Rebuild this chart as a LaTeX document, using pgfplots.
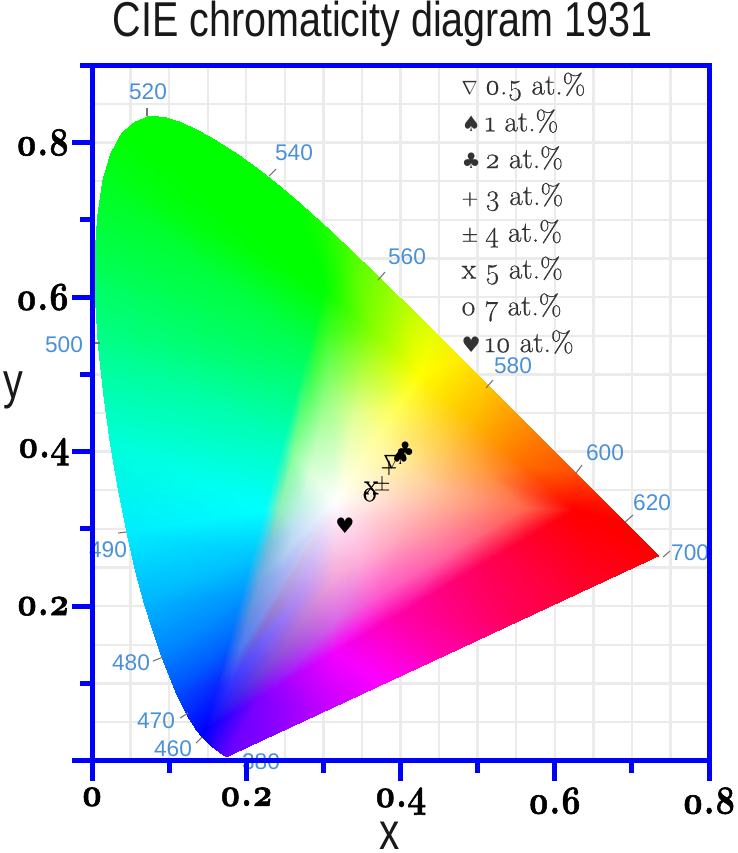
\documentclass[border=0pt]{standalone}
\usepackage{fontspec}
\usepackage{pgfplots}
\pgfplotsset{compat=1.18}
\setmainfont{Liberation Serif}
\newfontfamily\oldnum[Numbers=OldStyle,FakeBold=0.5]{Latin Modern Roman}
\newfontfamily\oldbold[Numbers=OldStyle,BoldFeatures={FakeBold=1.5}]{Latin Modern Roman}
\newfontfamily\wave{Liberation Sans}
\newfontfamily\sym{DejaVu Sans}
\definecolor{spine}{RGB}{0,0,255}
\definecolor{wavecol}{RGB}{74,144,217}
\definecolor{gridcol}{RGB}{235,235,235}

\begin{document}
\begin{tikzpicture}
\useasboundingbox (-69pt,-69.2pt) rectangle (483.75pt,570.5pt);

\begin{axis}[
    scale only axis, width=462.75pt, height=521.55pt, at={(0,0)}, anchor=south west,
    xmin=0, xmax=0.8, ymin=0, ymax=0.9,
    xtick={0,0.05,...,0.8}, ytick={0,0.05,...,0.9},
    xticklabels={}, yticklabels={},
    grid=major, grid style={gridcol, line width=1.8pt},
    major tick length=0pt, axis line style={draw=none},
    legend cell align=left,
    legend style={at={(axis cs:0.479,0.897)}, anchor=north west, draw=none, fill=none,
        font=\oldnum\fontsize{22}{22}\selectfont, text=black!80, row sep=0pt, inner sep=0pt,
        /tikz/column sep=3pt,
        nodes={text height=20pt, text depth=7.6pt, inner sep=0pt}},
]
% colour fill: locus (0-36), gamut triangle (37-54), middle ring (55-72), white point (73),
% slivers that round off the locus (74-89), ring just inside the triangle (90-107)
\addplot[patch, patch type=triangle, shader=interp, forget plot,
    mesh/color input=explicit, table/row sep=\\,
    patch table={
    1 2 37\\ 2 3 37\\ 3 37 38\\ 3 4 38\\ 4 38 39\\ 4 5 39\\ 5 39 40\\ 5 6 40\\ 6 40 41\\ 6 7 41\\
    7 41 42\\ 7 8 42\\ 8 42 43\\ 8 9 43\\ 9 43 44\\ 9 10 44\\ 10 11 44\\ 11 44 45\\ 11 12 45\\
    12 13 45\\ 13 14 45\\ 14 15 45\\ 15 16 45\\ 16 17 45\\ 17 18 45\\ 18 19 45\\ 19 20 45\\
    20 45 46\\ 20 21 46\\ 21 22 46\\ 22 46 47\\ 22 23 47\\ 23 24 47\\ 24 47 48\\ 24 25 48\\
    25 48 49\\ 25 26 49\\ 26 27 49\\ 27 49 50\\ 27 28 50\\ 28 29 50\\ 29 30 50\\ 30 31 50\\
    31 50 51\\ 31 32 51\\ 32 51 52\\ 32 33 52\\ 33 34 52\\ 34 52 53\\ 34 35 53\\ 35 53 54\\
    35 36 54\\ 36 0 54\\ 0 54 37\\ 0 1 37\\
    37 38 90\\ 38 91 90\\ 38 39 91\\ 39 92 91\\ 39 40 92\\ 40 93 92\\ 40 41 93\\ 41 94 93\\
    41 42 94\\ 42 95 94\\ 42 43 95\\ 43 96 95\\ 43 44 96\\ 44 97 96\\ 44 45 97\\ 45 98 97\\
    45 46 98\\ 46 99 98\\ 46 47 99\\ 47 100 99\\ 47 48 100\\ 48 101 100\\ 48 49 101\\ 49 102 101\\
    49 50 102\\ 50 103 102\\ 50 51 103\\ 51 104 103\\ 51 52 104\\ 52 105 104\\ 52 53 105\\ 53 106 105\\
    53 54 106\\ 54 107 106\\ 54 37 107\\ 37 90 107\\
    90 91 55\\ 91 56 55\\ 91 92 56\\ 92 57 56\\ 92 93 57\\ 93 58 57\\ 93 94 58\\ 94 59 58\\
    94 95 59\\ 95 60 59\\ 95 96 60\\ 96 61 60\\ 96 97 61\\ 97 62 61\\ 97 98 62\\ 98 63 62\\
    98 99 63\\ 99 64 63\\ 99 100 64\\ 100 65 64\\ 100 101 65\\ 101 66 65\\ 101 102 66\\ 102 67 66\\
    102 103 67\\ 103 68 67\\ 103 104 68\\ 104 69 68\\ 104 105 69\\ 105 70 69\\ 105 106 70\\ 106 71 70\\
    106 107 71\\ 107 72 71\\ 107 90 72\\ 90 55 72\\
    55 56 73\\ 56 57 73\\ 57 58 73\\ 58 59 73\\ 59 60 73\\ 60 61 73\\ 61 62 73\\ 62 63 73\\
    63 64 73\\ 64 65 73\\ 65 66 73\\ 66 67 73\\ 67 68 73\\ 68 69 73\\ 69 70 73\\ 70 71 73\\
    71 72 73\\ 72 55 73\\
    2 74 3\\ 3 75 4\\ 4 76 5\\ 5 77 6\\ 6 78 7\\ 7 79 8\\ 8 80 9\\ 9 81 10\\ 10 82 11\\
    11 83 12\\ 12 84 13\\ 13 85 14\\ 14 86 15\\ 15 87 16\\ 16 88 17\\ 17 89 18\\
    }] table[row sep=\\, meta=c] {
x y c\\
.1741 .005 .4,0,1\\
.1566 .0177 .1,0,1\\
.144 .0297 0,0,1\\
.1241 .0578 0,.15,1\\
.1096 .0868 0,.3,1\\
.0913 .1327 0,.5,1\\
.0687 .2007 0,.7,1\\
.0454 .295 0,.93,1\\
.0235 .4127 0,1,.85\\
.0082 .5384 0,1,.55\\
.0039 .6548 0,1,.3\\
.0139 .7502 0,1,.12\\
.0389 .812 0,1,0\\
.0743 .8338 0,1,0\\
.1142 .8262 0,1,0\\
.1547 .8059 0,1,0\\
.1929 .7816 0,1,0\\
.2296 .7543 0,1,0\\
.2658 .7243 0,1,0\\
.3016 .6923 .1,1,0\\
.3373 .6589 .3,1,0\\
.3731 .6245 .5,1,0\\
.4087 .5896 .72,1,0\\
.4441 .5547 .9,1,0\\
.4788 .5202 1,.92,0\\
.5125 .4866 1,.78,0\\
.5752 .4242 1,.5,0\\
.627 .3725 1,.3,0\\
.6658 .334 1,.08,0\\
.6915 .3083 1,0,0\\
.7347 .2653 1,0,0\\
.65 .226 1,0,.15\\
.55 .1795 1,0,.35\\
.45 .133 1,0,.7\\
.38 .1006 1,0,1\\
.30 .0634 .75,0,1\\
.24 .0356 .55,0,1\\
.147 .04 0,0,1\\
.1625 .0968 .03,.15,1\\
.178 .1536 0,.4,1\\
.1935 .2104 0,.58,1\\
.209 .267 0,.78,1\\
.2245 .324 0,1,1\\
.248 .409 0,1,.75\\
.279 .523 0,1,.35\\
.302 .608 0,1,0\\
.367 .551 .55,1,0\\
.425 .5 1,1,0\\
.496 .438 1,.72,0\\
.56 .382 1,.42,0\\
.625 .325 1,0,0\\
.5055 .254 1,0,.35\\
.386 .1825 1,0,.7\\
.314 .14 .95,0,1\\
.219 .082 .5,0,1\\
.231 .1875 .58,.48,.82\\
.2388 .2159 .6,.62,.92\\
.2465 .2443 .64,.7,.95\\
.2543 .2727 .72,.82,.95\\
.262 .301 .75,.88,.95\\
.2698 .3295 .75,.95,.9\\
.2815 .372 .85,1,.85\\
.297 .429 .7,1,.65\\
.3085 .4715 .6,1,.5\\
.341 .443 .9,1,.6\\
.37 .4175 1,1,.6\\
.4055 .3865 1,.92,.6\\
.4375 .3585 1,.8,.6\\
.47 .33 1,.65,.55\\
.4103 .2945 1,.65,.7\\
.3505 .2588 1,.68,.85\\
.3145 .2375 .96,.66,.85\\
.267 .2085 .7,.55,.95\\
.315 .335 1,1,1\\
.1355 .0399 0,.07,1\\
.1175 .0715 0,.22,1\\
.1012 .1083 0,.4,1\\
.0805 .1642 0,.6,1\\
.0567 .2445 0,.82,1\\
.034 .352 0,1,.97\\
.015 .476 0,1,.7\\
.0045 .597 0,1,.42\\
.0075 .705 0,1,.2\\
.0243 .785 0,1,.05\\
.0555 .826 0,1,0\\
.0942 .8325 0,1,0\\
.1345 .8167 0,1,0\\
.1738 .794 0,1,0\\
.2112 .7683 0,1,0\\
.2477 .7396 0,1,0\\
.1806 .099 .2,.2,1\\
.193 .1444 .3,.47,.94\\
.2054 .1899 .38,.56,.88\\
.2178 .2353 .44,.66,.88\\
.2302 .2806 .47,.75,.85\\
.2426 .3262 .55,.94,.72\\
.2614 .3942 .55,1,.62\\
.2862 .4854 .3,1,.35\\
.3046 .5534 .22,1,.15\\
.3566 .5078 .7,1,.2\\
.403 .467 1,1,.25\\
.4598 .4174 1,.8,.25\\
.511 .3726 1,.6,.25\\
.563 .327 1,.4,.3\\
.4674 .2702 1,.4,.6\\
.3718 .213 1,.35,.8\\
.3142 .179 .85,.4,.9\\
.2382 .1326 .55,.3,.85\\
};
% spectral locus outline
\addplot[forget plot, draw=black!55, line width=0.7pt] coordinates {
(.1741,.005)(.1714,.0051)(.1644,.0109)(.1566,.0177)(.144,.0297)(.1355,.0399)(.1241,.0578)
(.1175,.0715)(.1096,.0868)(.1012,.1083)(.0913,.1327)(.0805,.1642)(.0687,.2007)(.0567,.2445)
(.0454,.295)(.034,.352)(.0235,.4127)(.015,.476)(.0082,.5384)(.0045,.597)(.0039,.6548)
(.0075,.705)(.0139,.7502)(.0243,.785)(.0389,.812)(.0555,.826)(.0743,.8338)(.0942,.8325)
(.1142,.8262)(.1345,.8167)(.1547,.8059)(.1738,.794)(.1929,.7816)(.2112,.7683)(.2296,.7543)
(.2477,.7396)(.2658,.7243)(.3016,.6923)(.3373,.6589)(.3731,.6245)(.4087,.5896)(.4441,.5547)
(.4788,.5202)(.5125,.4866)(.5448,.4544)(.5752,.4242)(.6029,.3965)(.627,.3725)(.6658,.334)
(.6915,.3083)(.7079,.292)(.7347,.2653)};

\pgfplotsset{every axis plot/.append style={only marks, mark=text, mark options={solid},
    text mark as node=true, text mark style={font=\sym\fontsize{14}{14}\selectfont, inner sep=0pt}}}
\newcommand{\tm}{\oldnum\fontsize{22}{22}\selectfont}
\newcommand{\tp}{\oldnum\fontsize{17}{17}\selectfont}
\addplot[text mark={\fontsize{15}{15}\selectfont$\nabla$}] coordinates {(.388,.387)};
\addlegendentry{0.5 at.\%}
\addplot[text mark={\fontsize{16}{16}\selectfont ♠}] coordinates {(.400,.393)};
\addlegendentry{1 at.\%}
\addplot[text mark={\fontsize{16}{16}\selectfont ♣}] coordinates {(.406,.402)};
\addlegendentry{2 at.\%}
\addplot[text mark={\tp +}] coordinates {(.385,.379)};
\addlegendentry{3 at.\%}
\addplot[text mark={\tp ±}] coordinates {(.376,.359)};
\addlegendentry{4 at.\%}
\addplot[text mark={\tm x}] coordinates {(.362,.353)};
\addlegendentry{5 at.\%}
\addplot[text mark={\tm o}] coordinates {(.36,.344)};
\addlegendentry{7 at.\%}
\addplot[text mark={\fontsize{16}{16}\selectfont ♥}] coordinates {(.328,.304)};
\addlegendentry{10 at.\%}
\end{axis}

% wavelength labels and their ticks, in pixels of the picture
\begin{scope}[shift={(-69pt,570.5pt)}, x=.75pt, y=-.75pt]
\foreach \a/\b/\c/\d in {147/108/147/116, 276/169/269/176, 385/272/378/280, 493/380/486/388,
    582/465/576/473, 633/515/625/522, 670/551/663/557, 94/343/100/343, 118/533/126/532,
    153/661/163/657, 180/718/188/713, 196/743/202/737, 227/758/224/763}
  \draw[black!55, line width=0.8pt] (\a,\b) -- (\c,\d);
\tikzset{every node/.style={text=wavecol, font=\wave\fontsize{17}{17}\selectfont, inner sep=0pt}}
\node at (148,92) {520};
\node at (294,153) {540};
\node at (407,257) {560};
\node at (513,366) {580};
\node at (605,453) {600};
\node at (652,503) {620};
\node at (690,553) {700};
\node at (64,345) {500};
\node at (108,550) {490};
\node at (131,663) {480};
\node at (156,721) {470};
\node at (173,749) {460};
\node at (261,762) {380};
\end{scope}

% spines, ticks, tick labels, title and axis labels over the rest
\begin{axis}[
    scale only axis, width=462.75pt, height=521.55pt, at={(0,0)}, anchor=south west,
    xmin=0, xmax=0.8, ymin=0, ymax=0.9,
    xtick={0,0.2,0.4,0.6,0.8}, ytick={0,0.2,0.4,0.6,0.8},
    minor xtick={0.1,0.3,0.5,0.7}, minor ytick={0.1,0.3,0.5,0.7,0.9},
    xticklabels={0,0.2,0.4,0.6,0.8}, yticklabels={,0.2,0.4,0.6,0.8},
    xtick pos=bottom, ytick pos=left, tick align=outside,
    major tick length=15pt, minor tick length=9pt,
    axis line style={spine, line width=3.75pt},
    every tick/.style={spine, line width=3.75pt},
    every minor tick/.style={spine, line width=3.75pt},
    tick label style={font=\oldbold\bfseries\fontsize{30}{30}\selectfont, black, xscale=.85},
    xticklabel style={yshift=-1.5pt},
    yticklabel style={xshift=1.5pt},
    title={CIE chromaticity diagram 1931},
    title style={at={(0.471,1)}, anchor=base, yshift=15.5pt, inner sep=0pt, xscale=.807,
        font=\wave\fontsize{36.7}{36.7}\selectfont, text=black!90},
    xlabel={x}, ylabel={y},
    xlabel style={at={(0.483,0)}, anchor=center, yshift=-56.5pt, xscale=.78,
        font=\wave\fontsize{39}{39}\selectfont, text=black!90},
    ylabel style={at={(-0.128,0.533)}, anchor=center, rotate=-90, xscale=.78,
        font=\wave\fontsize{38}{38}\selectfont, text=black!90},
]
\end{axis}
\end{tikzpicture}
\end{document}
